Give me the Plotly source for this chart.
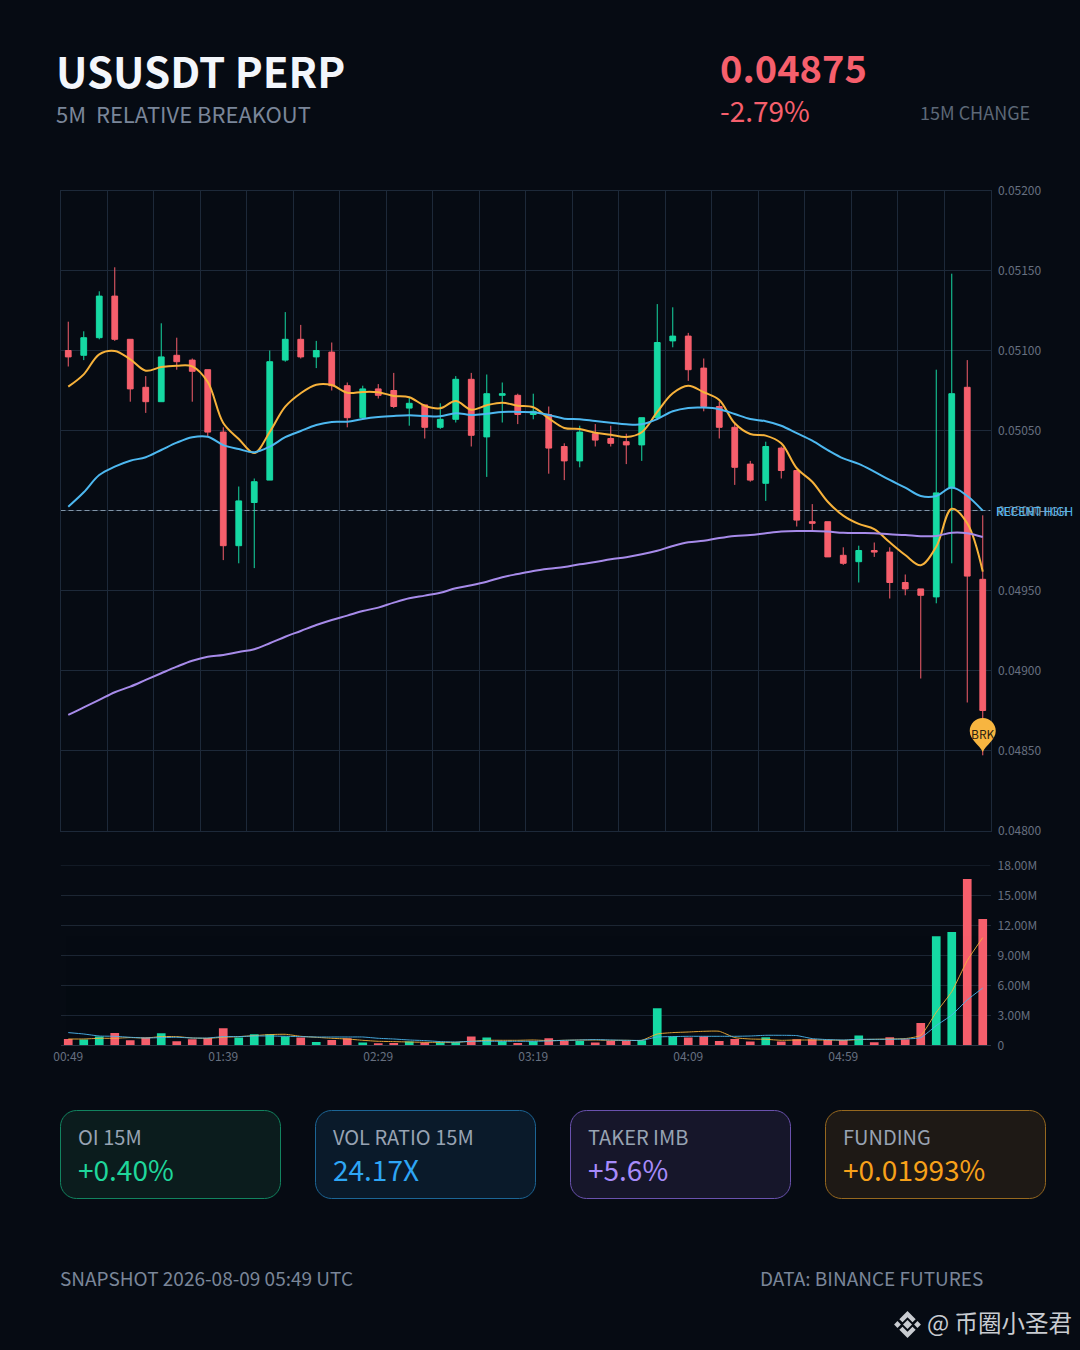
"""USUSDT perp 5m breakout card"""
import pandas as pd
import plotly.graph_objects as go
from plotly.subplots import make_subplots

W, H = 1080, 1350
BG = "#060b13"
GREEN = "#16d9a3"
RED = "#f65f6c"
GRID = "#1d2939"
VOL_GRID = "#1c2633"
FONT = "Noto Sans CJK SC"

times = pd.date_range("2026-08-09 00:49", periods=60, freq="5min")

opens = [0.05100, 0.05097, 0.05108, 0.05134, 0.05107, 0.05077, 0.05068, 0.05097, 0.05094, 0.05088,
         0.05049, 0.04978, 0.05005, 0.05019, 0.05094, 0.05107, 0.05096, 0.05099, 0.05078, 0.05058,
         0.05076, 0.05075, 0.05064, 0.05066, 0.05052, 0.05057, 0.05082, 0.05046, 0.05072, 0.05072,
         0.05060, 0.05060, 0.05040, 0.05031, 0.05048, 0.05045, 0.05043, 0.05041, 0.05058, 0.05106,
         0.05109, 0.05089, 0.05065, 0.05052, 0.05029, 0.05017, 0.05039, 0.05025, 0.04993, 0.04993,
         0.04972, 0.04968, 0.04975, 0.04974, 0.04955, 0.04951, 0.04946, 0.05014, 0.05077, 0.04957]
highs = [0.05118, 0.05112, 0.05137, 0.05152, 0.05107, 0.05084, 0.05117, 0.05108, 0.05095, 0.05088,
         0.05052, 0.05015, 0.05020, 0.05100, 0.05124, 0.05116, 0.05106, 0.05105, 0.05080, 0.05078,
         0.05079, 0.05086, 0.05071, 0.05066, 0.05067, 0.05084, 0.05086, 0.05085, 0.05080, 0.05073,
         0.05073, 0.05065, 0.05042, 0.05053, 0.05054, 0.05053, 0.05048, 0.05058, 0.05129, 0.05127,
         0.05111, 0.05095, 0.05068, 0.05055, 0.05031, 0.05043, 0.05040, 0.05025, 0.05004, 0.04993,
         0.04977, 0.04978, 0.04980, 0.04977, 0.04960, 0.04951, 0.05088, 0.05148, 0.05094, 0.04997]
lows = [0.05090, 0.05094, 0.05107, 0.05106, 0.05068, 0.05061, 0.05068, 0.05088, 0.05068, 0.05046,
        0.04969, 0.04967, 0.04964, 0.05019, 0.05093, 0.05095, 0.05089, 0.05075, 0.05052, 0.05058,
        0.05070, 0.05064, 0.05053, 0.05045, 0.05051, 0.05055, 0.05040, 0.05021, 0.05055, 0.05054,
        0.05057, 0.05023, 0.05019, 0.05027, 0.05040, 0.05040, 0.05029, 0.05031, 0.05058, 0.05102,
        0.05081, 0.05062, 0.05045, 0.05016, 0.05018, 0.05006, 0.05020, 0.04990, 0.04987, 0.04971,
        0.04966, 0.04955, 0.04971, 0.04945, 0.04947, 0.04895, 0.04942, 0.04967, 0.04880, 0.04847]
closes = [0.05096, 0.05108, 0.05134, 0.05107, 0.05076, 0.05068, 0.05096, 0.05093, 0.05087, 0.05049,
          0.04978, 0.05006, 0.05018, 0.05093, 0.05107, 0.05096, 0.05100, 0.05078, 0.05058, 0.05076,
          0.05072, 0.05065, 0.05067, 0.05052, 0.05057, 0.05082, 0.05047, 0.05073, 0.05073, 0.05060,
          0.05062, 0.05039, 0.05031, 0.05049, 0.05044, 0.05042, 0.05041, 0.05058, 0.05105, 0.05109,
          0.05088, 0.05065, 0.05052, 0.05027, 0.05019, 0.05040, 0.05025, 0.04994, 0.04992, 0.04971,
          0.04967, 0.04975, 0.04974, 0.04955, 0.04951, 0.04947, 0.05011, 0.05073, 0.04959, 0.04875]

ma_fast = [0.050774, 0.050851, 0.050976, 0.050997, 0.050945, 0.050874, 0.050897, 0.050905, 0.050901, 0.050803,
           0.050547, 0.050447, 0.050359, 0.050491, 0.050649, 0.050733, 0.050786, 0.050784, 0.050736, 0.050741,
           0.050739, 0.050716, 0.050708, 0.050655, 0.050639, 0.050684, 0.050630, 0.050658, 0.050674, 0.050655,
           0.050645, 0.050576, 0.050516, 0.050509, 0.050486, 0.050474, 0.050459, 0.050489, 0.050616, 0.050733,
           0.050780, 0.050739, 0.050691, 0.050545, 0.050478, 0.050468, 0.050420, 0.050264, 0.050180, 0.050055,
           0.049968, 0.049916, 0.049883, 0.049801, 0.049722, 0.049658, 0.049774, 0.050011, 0.049920, 0.049618]
ma_mid = [0.050024, 0.050114, 0.050222, 0.050274, 0.050311, 0.050333, 0.050378, 0.050424, 0.050458, 0.050461,
          0.050409, 0.050384, 0.050364, 0.050399, 0.050458, 0.050497, 0.050534, 0.050553, 0.050555, 0.050572,
          0.050584, 0.050591, 0.050595, 0.050591, 0.050589, 0.050608, 0.050597, 0.050605, 0.050616, 0.050616,
          0.050614, 0.050597, 0.050574, 0.050570, 0.050559, 0.050549, 0.050539, 0.050539, 0.050572, 0.050620,
          0.050641, 0.050643, 0.050633, 0.050603, 0.050572, 0.050558, 0.050530, 0.050483, 0.050436, 0.050378,
          0.050326, 0.050291, 0.050243, 0.050191, 0.050143, 0.050091, 0.050091, 0.050143, 0.050091, 0.049999]
ma_slow = [0.048722, 0.048770, 0.048816, 0.048864, 0.048899, 0.048941, 0.048983, 0.049024, 0.049061, 0.049086,
           0.049097, 0.049116, 0.049133, 0.049170, 0.049211, 0.049247, 0.049284, 0.049316, 0.049343, 0.049372,
           0.049393, 0.049424, 0.049451, 0.049468, 0.049486, 0.049514, 0.049533, 0.049555, 0.049583, 0.049603,
           0.049622, 0.049636, 0.049647, 0.049664, 0.049678, 0.049695, 0.049708, 0.049726, 0.049749, 0.049778,
           0.049801, 0.049811, 0.049828, 0.049841, 0.049847, 0.049858, 0.049868, 0.049872, 0.049872, 0.049868,
           0.049861, 0.049859, 0.049858, 0.049851, 0.049847, 0.049839, 0.049841, 0.049861, 0.049858, 0.049834]

volume_m = [0.63, 0.57, 0.87, 1.23, 0.50, 0.77, 1.20, 0.40, 0.60, 0.73,
            1.70, 0.77, 1.10, 1.10, 0.87, 0.77, 0.33, 0.53, 0.70, 0.27,
            0.20, 0.23, 0.37, 0.27, 0.30, 0.30, 0.87, 0.77, 0.40, 0.23,
            0.40, 0.70, 0.43, 0.43, 0.27, 0.43, 0.43, 0.50, 3.70, 0.87,
            0.77, 0.87, 0.43, 0.63, 0.37, 0.80, 0.37, 0.60, 0.60, 0.53,
            0.53, 0.97, 0.30, 0.80, 0.60, 2.23, 10.90, 11.33, 16.63, 12.63]
vol_fast = [0.63, 0.63, 0.70, 0.70, 0.77, 0.73, 0.87, 0.87, 0.73, 0.70,
            0.80, 0.87, 0.97, 1.07, 1.10, 0.90, 0.80, 0.70, 0.63, 0.50,
            0.40, 0.37, 0.33, 0.30, 0.30, 0.30, 0.40, 0.50, 0.50, 0.50,
            0.53, 0.47, 0.50, 0.53, 0.53, 0.50, 0.50, 0.50, 1.13, 1.27,
            1.33, 1.40, 1.40, 0.77, 0.63, 0.60, 0.50, 0.53, 0.53, 0.53,
            0.50, 0.57, 0.60, 0.63, 0.67, 1.00, 3.30, 5.37, 8.47, 10.77]
vol_slow = [1.27, 1.13, 0.93, 0.90, 0.80, 0.73, 0.77, 0.80, 0.73, 0.73,
            0.87, 0.87, 0.93, 0.93, 0.90, 0.87, 0.83, 0.83, 0.83, 0.83,
            0.70, 0.63, 0.53, 0.47, 0.37, 0.33, 0.40, 0.40, 0.40, 0.40,
            0.40, 0.43, 0.50, 0.53, 0.57, 0.53, 0.50, 0.50, 0.83, 0.87,
            0.90, 0.90, 0.90, 0.90, 0.93, 1.00, 1.00, 0.97, 0.67, 0.57,
            0.53, 0.60, 0.60, 0.60, 0.63, 0.77, 1.97, 3.03, 4.53, 5.73]

price_ticks = [0.048, 0.0485, 0.049, 0.0495, 0.05, 0.0505, 0.051, 0.0515, 0.052]
vol_ticks = [0, 3, 6, 9, 12, 15, 18]
vol_tick_text = ["0", "3.00M", "6.00M", "9.00M", "12.00M", "15.00M", "18.00M"]
break_level = 0.05
brk_price = 0.04849

cards = [
    ("OI 15M", "+0.40%", "#0b1c1d", "#12835f", "#1fd69b"),
    ("VOL RATIO 15M", "24.17X", "#0a1a2a", "#1c6595", "#2ea6f5"),
    ("TAKER IMB", "+5.6%", "#16162a", "#6a52ae", "#a78bfa"),
    ("FUNDING", "+0.01993%", "#1e1915", "#96681f", "#f7a11a"),
]


def px(x):
    return x / W


def py(y):
    return 1 - y / H


def label(fig, x, y, text, size, color, anchor="left", bold=False):
    if bold:
        text = "<b>" + text + "</b>"
    fig.add_annotation(x=px(x), y=py(y), xref="paper", yref="paper", text=text, showarrow=False,
                       xanchor=anchor, yanchor="middle", borderpad=0,
                       font=dict(family=FONT, size=size, color=color))


def round_rect(x0, y0, x1, y1, r):
    k = 0.45 * r
    pts = [
        f"M{px(x0 + r)},{py(y0)}", f"L{px(x1 - r)},{py(y0)}",
        f"C{px(x1 - k)},{py(y0)} {px(x1)},{py(y0 + k)} {px(x1)},{py(y0 + r)}",
        f"L{px(x1)},{py(y1 - r)}",
        f"C{px(x1)},{py(y1 - k)} {px(x1 - k)},{py(y1)} {px(x1 - r)},{py(y1)}",
        f"L{px(x0 + r)},{py(y1)}",
        f"C{px(x0 + k)},{py(y1)} {px(x0)},{py(y1 - k)} {px(x0)},{py(y1 - r)}",
        f"L{px(x0)},{py(y0 + r)}",
        f"C{px(x0)},{py(y0 + k)} {px(x0 + k)},{py(y0)} {px(x0 + r)},{py(y0)}", "Z",
    ]
    return " ".join(pts)


def poly(cx, cy, pts):
    s = "M" + " L".join(f"{px(cx + a)},{py(cy + b)}" for a, b in pts) + " Z"
    return s


fig = make_subplots(rows=2, cols=1)

fig.add_trace(go.Candlestick(x=times, open=opens, high=highs, low=lows, close=closes,
                             whiskerwidth=0,
                             increasing=dict(line=dict(color=GREEN, width=1), fillcolor=GREEN),
                             decreasing=dict(line=dict(color=RED, width=1), fillcolor=RED),
                             showlegend=False), 1, 1)
for series, color in [(ma_fast, "#f7b23b"), (ma_mid, "#4db8f0"), (ma_slow, "#a78bea")]:
    fig.add_trace(go.Scatter(x=times, y=series, mode="lines", showlegend=False,
                             line=dict(color=color, width=2, shape="spline", smoothing=1)), 1, 1)

bar_colors = [GREEN if c >= o else RED for o, c in zip(opens, closes)]
fig.add_trace(go.Bar(x=times, y=volume_m, marker=dict(color=bar_colors, line_width=0), showlegend=False), 2, 1)
for series, color in [(vol_fast, "#f7b23b"), (vol_slow, "#4db8f0")]:
    fig.add_trace(go.Scatter(x=times, y=series, mode="lines", showlegend=False, opacity=0.9,
                             line=dict(color=color, width=1, shape="spline", smoothing=0.5)), 2, 1)

x_range = pd.to_datetime(["2026-08-09 00:46:30", "2026-08-09 05:46:30"])
x_domain = [px(60.5), px(990.5)]
fig.update_xaxes(range=list(x_range), domain=x_domain)
fig.update_xaxes(row=1, col=1, rangeslider_visible=False, showticklabels=False, tick0=x_range[0],
                 dtick=900000, showgrid=True, gridcolor=GRID, gridwidth=1, zeroline=False,
                 showline=True, linecolor=GRID, linewidth=1, mirror=True)
fig.update_xaxes(row=2, col=1, showgrid=False, tickmode="array", tickvals=list(times[::10]), tickformat="%H:%M",
                 showline=True, linecolor="#2a3543", linewidth=1, ticks="",
                 tickfont=dict(family=FONT, size=12, color="#667080"))
fig.update_yaxes(row=1, col=1, domain=[py(830.5), py(190.5)], range=[0.048, 0.052], side="right",
                 tickmode="array", tickvals=price_ticks, tickformat=".5f", showgrid=True, gridcolor=GRID,
                 zeroline=False, showline=True, linecolor=GRID, linewidth=1, mirror=True, ticklabelstandoff=4,
                 tickfont=dict(family=FONT, size=12, color="#667080"))
fig.update_yaxes(row=2, col=1, domain=[py(1045.3), py(865.3)], range=[0, 18], side="right",
                 tickmode="array", tickvals=vol_ticks, ticktext=vol_tick_text, showgrid=True,
                 gridcolor=VOL_GRID, zeroline=False, showline=False, ticklabelstandoff=6,
                 tickfont=dict(family=FONT, size=12, color="#667080"))

# plotly leaves out the grid line on the top end of the range
fig.add_shape(type="line", xref="x2", yref="y2", x0=x_range[0], x1=x_range[1], y0=vol_ticks[-1], y1=vol_ticks[-1],
              layer="between", line=dict(color=VOL_GRID, width=1))

# breakout level, dashed, with the two labels that sit on top of each other
fig.add_shape(type="line", xref="x", yref="y", x0=x_range[0], x1=x_range[1], y0=break_level, y1=break_level,
              layer="between", line=dict(color="#8195a8", width=1, dash="5px,3px"))
for text, color in [("REF 1H HIGH", "#7f93a6"), ("RECENT HIGH", "#4db8f0")]:
    fig.add_annotation(x=1, xref="x domain", y=break_level, yref="y", text=text, showarrow=False,
                       xanchor="left", xshift=3, font=dict(family=FONT, size=12, color=color))

# BRK pin on the last bar, x given in paper units so the plot area does not clip it
last_frac = (times[-1] - x_range[0]) / (x_range[1] - x_range[0])
pin_x = x_domain[0] + last_frac * (x_domain[1] - x_domain[0])
fig.add_shape(type="path", xref="paper", yref="y", xsizemode="pixel", ysizemode="pixel",
              xanchor=pin_x, yanchor=brk_price,
              path="M0,0 C-3,7 -13,12 -13,21 C-13,28.2 -7.2,34 0,34 C7.2,34 13,28.2 13,21 C13,12 3,7 0,0 Z",
              fillcolor="#f7b540", line_width=0, layer="above")
fig.add_annotation(x=times[-1], y=brk_price, text="BRK", showarrow=False, yshift=19,
                   font=dict(family=FONT, size=12, color="#2b2110"))

label(fig, 55, 69, "USUSDT PERP", 42, "#f3f6fb", bold=True)
label(fig, 55, 113, "5M  RELATIVE BREAKOUT", 22, "#7a8699")
label(fig, 719, 67, "0.04875", 38, RED, bold=True)
label(fig, 718.5, 110, "-2.79%", 28, RED)
label(fig, 1031, 112, "15M CHANGE", 18, "#5d6877", anchor="right")

card_left = [60.5, 315.5, 570.5, 825.5]
for left, (name, value, fill, edge, color) in zip(card_left, cards):
    fig.add_shape(type="path", xref="paper", yref="paper", path=round_rect(left, 1110.5, left + 220, 1198.5, 16),
                  fillcolor=fill, line=dict(color=edge, width=1))
    label(fig, left + 16.5, 1136, name, 20, "#98a3b3")
    label(fig, left + 16.5, 1169, value, 28, color)

label(fig, 59, 1277, "SNAPSHOT 2026-08-09 05:49 UTC", 19, "#7a8699")
label(fig, 984, 1277, "DATA: BINANCE FUTURES", 19, "#7a8699", anchor="right")
label(fig, 925.5, 1322, "@ 币圈小圣君", 23.5, "#c9ccd1")

# exchange logo next to the watermark
logo_parts = [
    [(0, -4.5), (4.5, 0), (0, 4.5), (-4.5, 0)],
    [(-10, -3.4), (-6.6, 0), (-10, 3.4), (-13.4, 0)],
    [(10, -3.4), (13.4, 0), (10, 3.4), (6.6, 0)],
    [(0, -13.5), (8.2, -5.3), (5, -2.2), (0, -7.2), (-5, -2.2), (-8.2, -5.3)],
    [(0, 13.5), (8.2, 5.3), (5, 2.2), (0, 7.2), (-5, 2.2), (-8.2, 5.3)],
]
for part in logo_parts:
    fig.add_shape(type="path", xref="paper", yref="paper", path=poly(907.5, 1324.5, part),
                  fillcolor="#c9ccd1", line_width=0)

fig.update_layout(width=W, height=H, margin=dict(l=0, r=0, t=0, b=0, autoexpand=False),
                  paper_bgcolor=BG, plot_bgcolor=BG,
                  boxgap=0.47, bargap=0.44, showlegend=False, hovermode=False,
                  font=dict(family=FONT))

fig.write_html("out.html", config={"displayModeBar": False},
               post_script="document.body.style.margin='0';document.body.style.background='#060b13';")
